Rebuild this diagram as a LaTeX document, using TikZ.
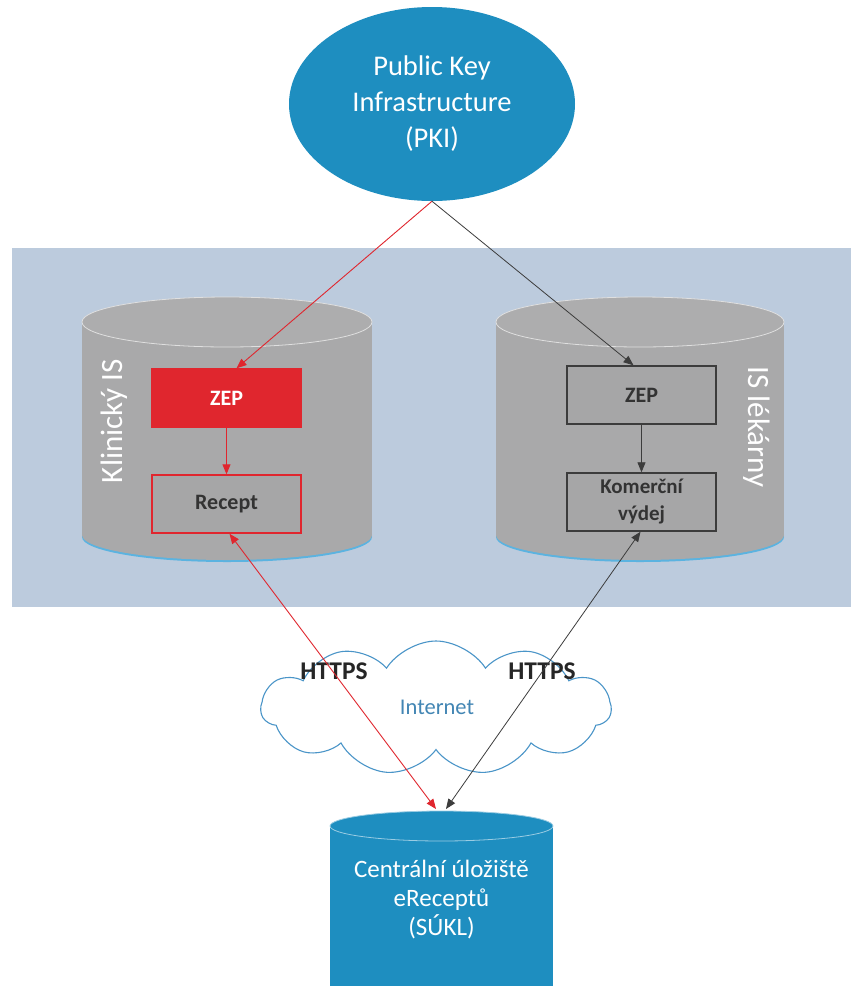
\documentclass[tikz,border=0pt]{standalone}
\usepackage{fontspec}
\setmainfont{Carlito}
\usetikzlibrary{shapes.symbols,shapes.geometric,arrows.meta}
\definecolor{bandblue}{HTML}{BCCBDD}
\definecolor{cylgray}{HTML}{A9A9AA}
\definecolor{capgray}{HTML}{ADADAE}
\definecolor{boxgray}{HTML}{A6A6A7}
\definecolor{pkiblue}{HTML}{1E8EC0}
\definecolor{edgeblue}{HTML}{5BB3E0}
\definecolor{zepred}{HTML}{E0262E}
\definecolor{darkline}{HTML}{3C3C3C}
\definecolor{cloudblue}{HTML}{4A95C8}
\begin{document}
\begin{tikzpicture}[x=1pt,y=-1pt,
  innerbox/.style={rectangle, minimum width=149pt, minimum height=58pt, inner sep=0pt, line width=1.4pt, font=\fontsize{22}{26}\selectfont\bfseries, align=center},
  redarrow/.style={zepred, line width=0.9pt, -{Triangle[length=10pt,width=8pt]}},
  darkarrow/.style={darkline, line width=0.8pt, -{Triangle[length=10pt,width=8pt]}},
  redboth/.style={zepred, line width=0.9pt, {Triangle[length=10pt,width=8pt]}-{Triangle[length=10pt,width=8pt]}},
  darkboth/.style={darkline, line width=0.8pt, {Triangle[length=10pt,width=8pt]}-{Triangle[length=10pt,width=8pt]}},
  sidelabel/.style={text=white, font=\fontsize{31}{34}\selectfont},
  httpslabel/.style={text=black!85, font=\fontsize{25.5}{28}\selectfont\bfseries}
]
\useasboundingbox (0,0) rectangle (851,986);
\fill[white] (0,0) rectangle (851,986);

% band
\fill[bandblue] (12,248) rectangle (851,607);

% left gray cylinder
\fill[edgeblue] (227,537) ellipse [x radius=145, y radius=25];
\fill[cylgray] (82,322) rectangle (372,535);
\fill[cylgray] (227,535) ellipse [x radius=145, y radius=25];
\filldraw[fill=capgray, draw=white!75!gray, line width=0.8pt] (227,322) ellipse [x radius=145, y radius=25];

% right gray cylinder
\fill[edgeblue] (640,537) ellipse [x radius=144, y radius=25];
\fill[cylgray] (496,322) rectangle (784,535);
\fill[cylgray] (640,535) ellipse [x radius=144, y radius=25];
\filldraw[fill=capgray, draw=white!75!gray, line width=0.8pt] (640,322) ellipse [x radius=144, y radius=25];

\node[sidelabel, rotate=90] (klin) at (114,421) {Klinický IS};
\node[sidelabel, rotate=-90] (lek) at (757,427) {IS lékárny};

% PKI
\node[ellipse, fill=pkiblue, minimum width=286pt, minimum height=194pt, inner sep=0pt,
      text=white, align=center, font=\fontsize{28.5}{36}\selectfont] (pki) at (432,104)
      {Public Key\\Infrastructure\\(PKI)};

% inner boxes
\node[innerbox, fill=zepred, draw=zepred, text=white] (zepL) at (226.5,398) {ZEP};
\node[innerbox, fill=boxgray, draw=zepred, text=black!80] (rec) at (226.5,504) {Recept};
\node[innerbox, fill=boxgray, draw=darkline, text=black!80] (zepR) at (641.5,395) {ZEP};
\node[innerbox, fill=boxgray, draw=darkline, text=black!80, font=\fontsize{21}{27}\selectfont\bfseries] (kom) at (641.5,502) {Komerční\\výdej};

% cloud
\node[cloud, cloud puffs=11, cloud puff arc=115, aspect=2.6, draw=cloudblue, line width=1.1pt, fill=white,
      minimum width=350pt, minimum height=134pt, inner sep=0pt] (cloud) at (436,708) {};
\node[text=cloudblue!90!black, font=\fontsize{22.5}{26}\selectfont] (inet) at (437,707) {Internet};
\node[httpslabel] (h1) at (334,671) {HTTPS};
\node[httpslabel] (h2) at (542,671) {HTTPS};

% SUKL cylinder
\fill[pkiblue] (330,826) rectangle (553,986);
\filldraw[fill=pkiblue, draw=white!55!pkiblue, line width=0.8pt] (441.5,826) ellipse [x radius=111.5, y radius=15];
\node[text=white, align=center, font=\fontsize{25}{29}\selectfont] (sukl) at (441.5,900)
      {Centrální úložiště\\eReceptů\\(SÚKL)};
\coordinate (suklL) at (436,809);
\coordinate (suklR) at (446,809);

% connectors
\draw[redarrow] (pki.south) -- ([xshift=10pt]zepL.north);
\draw[darkarrow] (pki.south) -- ([xshift=-8pt]zepR.north);
\draw[redarrow] (zepL.south) -- (rec.north);
\draw[darkarrow] (zepR.south) -- (kom.north);
\draw[redboth] ([xshift=3pt]rec.south) -- (suklL);
\draw[darkboth] ([xshift=-1pt]kom.south) -- (suklR);
\end{tikzpicture}
\end{document}
